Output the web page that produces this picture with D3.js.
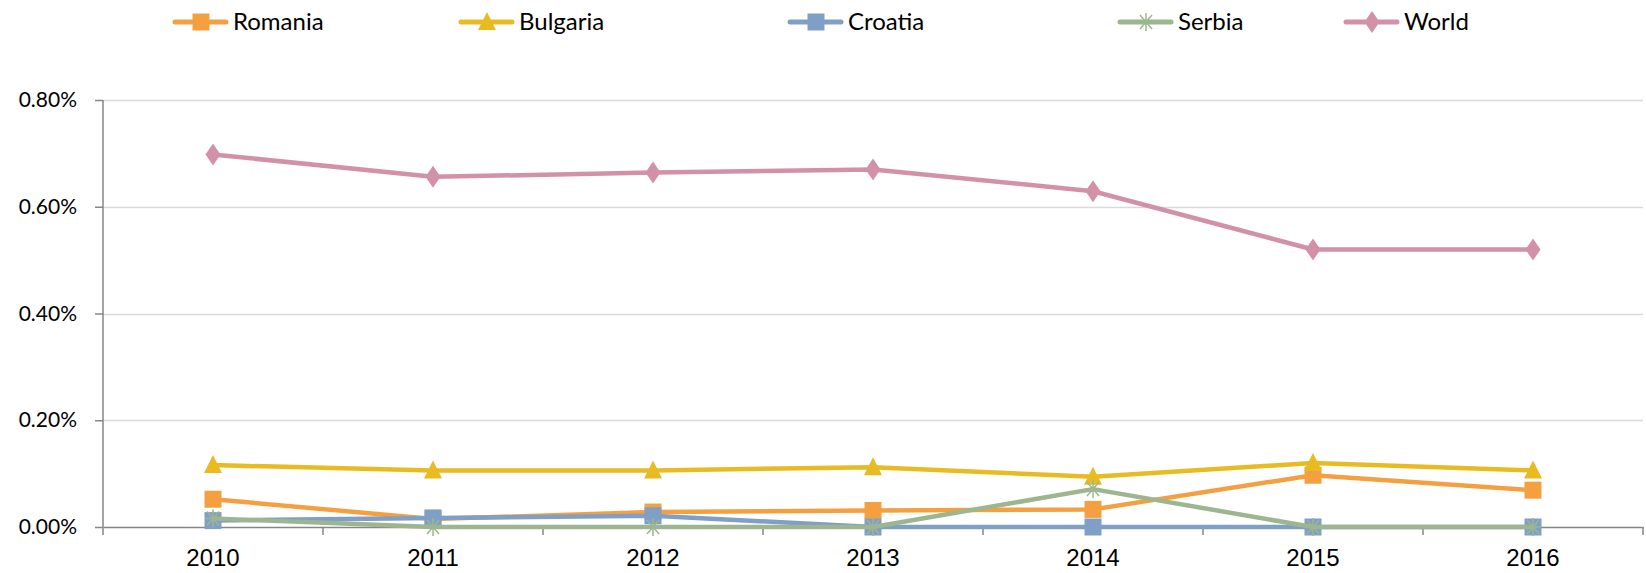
<!DOCTYPE html>
<html>
<head>
<meta charset="utf-8">
<script src="https://cdn.jsdelivr.net/npm/d3@7"></script>
<style>
  body { margin: 0; background: #fff; }
  svg { display: block; }
  .legend text { font-family: Lato, "Open Sans", sans-serif; font-size: 24px; fill: #000; }
  .yaxis text { font-family: Lato, "Open Sans", sans-serif; font-size: 21px; fill: #000; }
  .xaxis text { font-family: "Liberation Sans", Arial, sans-serif; font-size: 24px; fill: #000; }
</style>
</head>
<body>
<div id="viz"></div>
<script>
var width = 1646,
    height = 573;

// data (shares, in %)
var years = ["2010", "2011", "2012", "2013", "2014", "2015", "2016"];
var romania  = [0.052, 0.015, 0.028, 0.031, 0.033, 0.097, 0.069];
var bulgaria = [0.116, 0.106, 0.106, 0.112, 0.094, 0.120, 0.106];
var croatia  = [0.012, 0.017, 0.021, 0.000, 0.000, 0.000, 0.000];
var serbia   = [0.016, 0.000, 0.000, 0.000, 0.071, 0.000, 0.000];
var world    = [0.698, 0.656, 0.664, 0.670, 0.629, 0.520, 0.520];
var yTicks   = [0, 0.2, 0.4, 0.6, 0.8];

var series = [
    {name: "Romania",  values: romania,  color: "#F5A040", symbol: "square"},
    {name: "Bulgaria", values: bulgaria, color: "#E8BB22", symbol: "triangle"},
    {name: "Croatia",  values: croatia,  color: "#7F9FC6", symbol: "square"},
    {name: "Serbia",   values: serbia,   color: "#9DB690", symbol: "star"},
    {name: "World",    values: world,    color: "#D291A6", symbol: "diamond"}
];

var margin = {left: 103, right: 3, top: 100, bottom: 46};

var x = d3.scaleBand()
    .domain(years)
    .range([margin.left, width - margin.right]);

var y = d3.scaleLinear()
    .domain([0, 0.8])
    .range([height - margin.bottom, margin.top]);

var svg = d3.select("#viz").append("svg")
    .attr("width", width)
    .attr("height", height);

// gridlines
svg.append("g")
    .selectAll("line")
    .data(yTicks.slice(1))
    .enter().append("line")
    .attr("x1", margin.left)
    .attr("x2", width - margin.right)
    .attr("y1", function(d) { return Math.round(y(d)) + 0.5; })
    .attr("y2", function(d) { return Math.round(y(d)) + 0.5; })
    .attr("stroke", "#D9D9D9")
    .attr("stroke-width", 1.5);

// y axis
var yAxis = svg.append("g")
    .attr("class", "yaxis")
    .attr("transform", "translate(" + margin.left + ",0)")
    .call(d3.axisLeft(y).tickValues(yTicks).tickSize(8).tickPadding(18)
        .tickFormat(function(d) { return d.toFixed(2) + "%"; }));
yAxis.selectAll("path, line").attr("stroke", "#868686").attr("stroke-width", 1.5);
yAxis.select(".domain").attr("d", "M0," + y(0.8) + "V" + (y(0) + 8));

// x axis
var xAxis = svg.append("g")
    .attr("class", "xaxis")
    .attr("transform", "translate(0," + y(0) + ")")
    .call(d3.axisBottom(x).tickSize(0).tickPadding(22));
xAxis.select(".domain").attr("stroke", "#868686").attr("stroke-width", 1.5);
xAxis.selectAll(".tick line").remove();
xAxis.selectAll(".bound")
    .data(years.slice(1).concat(["end"]))
    .enter().append("line")
    .attr("class", "bound")
    .attr("x1", function(d, i) { return x(years[0]) + (i + 1) * x.step(); })
    .attr("x2", function(d, i) { return x(years[0]) + (i + 1) * x.step(); })
    .attr("y1", 0)
    .attr("y2", 8)
    .attr("stroke", "#868686")
    .attr("stroke-width", 1.5);

function cx(d, i) { return x(years[i]) + x.bandwidth() / 2; }

function symbolPath(kind) {
    if (kind === "square") return "M-8.5,-8.5H8.5V8.5H-8.5Z";
    if (kind === "triangle") return "M0,-10L9,8H-9Z";
    if (kind === "diamond") return "M0,-11L7.5,0L0,11L-7.5,0Z";
    // asterisk
    return "M-8,0H8M0,-9V9M-6,-7L6,7M-6,7L6,-7";
}

function drawMarker(g, s) {
    var p = g.append("path").attr("d", symbolPath(s.symbol));
    if (s.symbol === "star") {
        p.attr("fill", "none").attr("stroke", s.color).attr("stroke-width", 1.5);
    } else {
        p.attr("fill", s.color);
    }
}

var line = d3.line()
    .x(cx)
    .y(function(d) { return y(d); });

var plot = svg.append("g");

series.forEach(function(s) {
    var g = plot.append("g");
    g.append("path")
        .datum(s.values)
        .attr("d", line)
        .attr("fill", "none")
        .attr("stroke", s.color)
        .attr("stroke-width", 4.5)
        .attr("stroke-linejoin", "round");
    g.selectAll(".m")
        .data(s.values)
        .enter().append("g")
        .attr("transform", function(d, i) { return "translate(" + cx(d, i) + "," + y(d) + ")"; })
        .each(function() { drawMarker(d3.select(this), s); });
});

// legend
var legendX = [173, 459, 788, 1118, 1344];
var legend = svg.append("g").attr("class", "legend");
series.forEach(function(s, i) {
    var g = legend.append("g").attr("transform", "translate(" + legendX[i] + ",22)");
    g.append("line")
        .attr("x1", 2).attr("x2", 53)
        .attr("stroke", s.color)
        .attr("stroke-width", 5)
        .attr("stroke-linecap", "round");
    var m = g.append("g").attr("transform", "translate(28,0)");
    drawMarker(m, s);
    g.append("text")
        .attr("x", 60)
        .attr("y", 8)
        .text(s.name);
});
</script>
</body>
</html>
